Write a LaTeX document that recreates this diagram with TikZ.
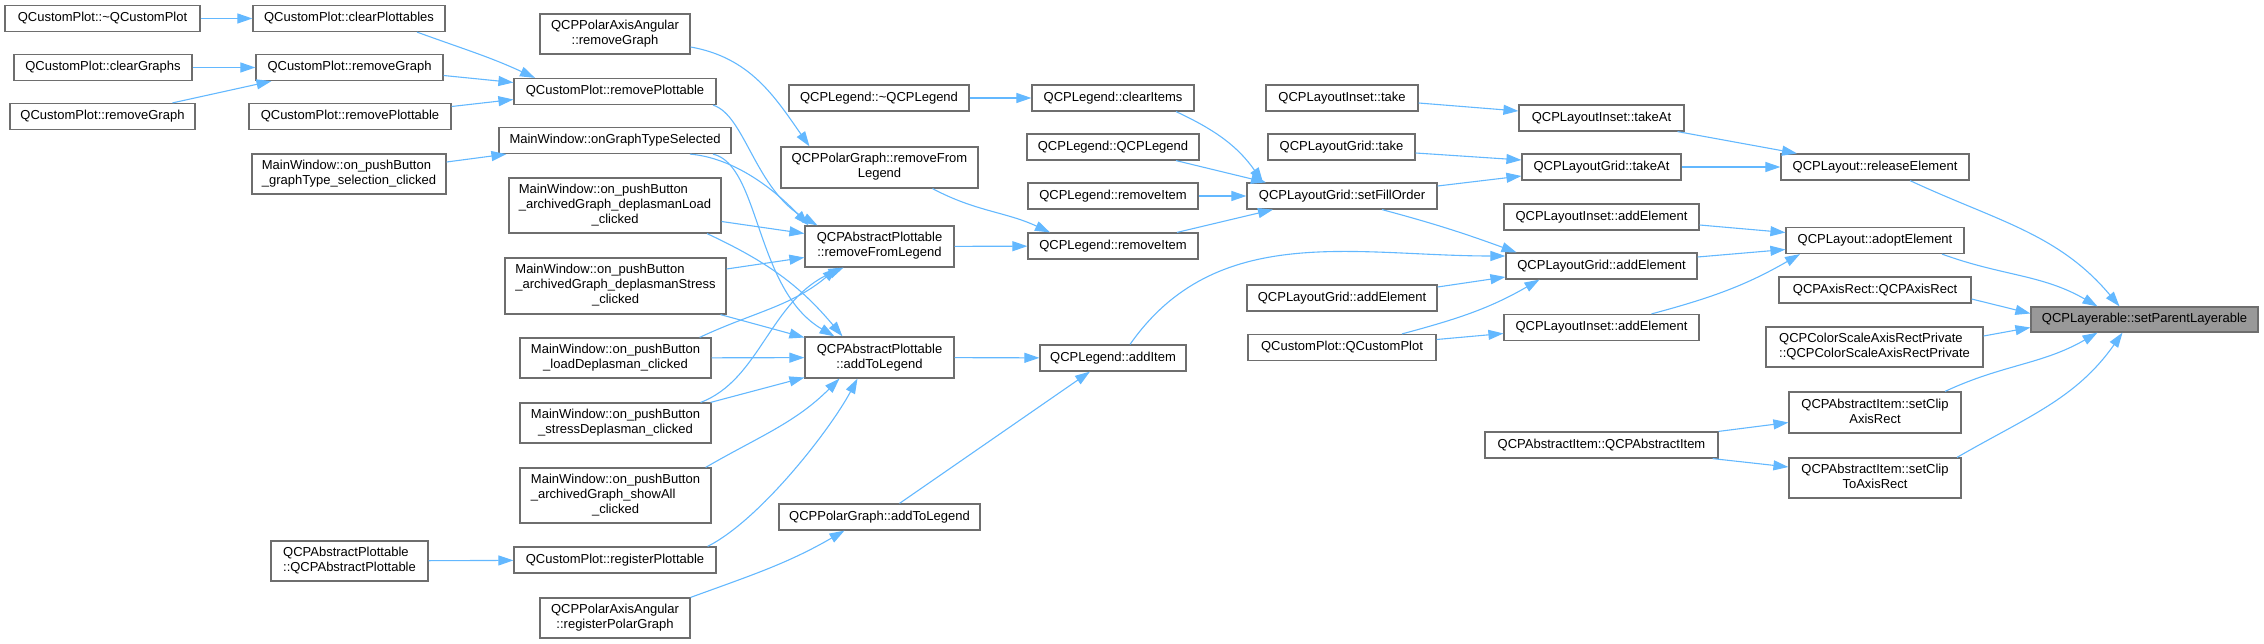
\documentclass[tikz,border=0pt]{standalone}
\usepackage{fontspec}
\setmainfont{Liberation Sans}
\usetikzlibrary{arrows.meta,positioning,calc}
\definecolor{edgeblue}{RGB}{99,184,255}
\definecolor{frame}{RGB}{110,110,110}
\definecolor{mark}{RGB}{153,153,153}
\newcommand{\twol}[2]{\begin{tabular}{@{}l@{}}#1\\\multicolumn{1}{@{}c@{}}{#2}\end{tabular}}
\newcommand{\threel}[3]{\begin{tabular}{@{}l@{}}#1\\#2\\\multicolumn{1}{@{}c@{}}{#3}\end{tabular}}

\begin{document}
\begin{tikzpicture}[x=1pt,y=-1pt,
    fn/.style={draw=frame,line width=1.2pt,fill=white,inner sep=0pt,align=center,
      font=\fontsize{13}{15}\selectfont},
    call/.style={draw=edgeblue,line width=1.1pt,-{Triangle[length=15pt,width=10pt]}}]
  \useasboundingbox (0,0) rectangle (2264,644);
  % functions, column by column
  \foreach \n/\x/\y/\w/\h/\t in {
    dtor/102.5/18.5/195/26/QCustomPlot::\textasciitilde{}QCustomPlot,
    clearGraphs/103/67.5/178/26/QCustomPlot::clearGraphs,
    removeGraphA/102.5/116.5/185/26/QCustomPlot::removeGraph,
    clearPlottables/349/18.5/192/26/QCustomPlot::clearPlottables,
    removeGraphB/349.5/67.5/187/26/QCustomPlot::removeGraph,
    removePlottableA/350/116.5/202/26/QCustomPlot::removePlottable,
    graphTypeClicked/349/174/194/40/{\twol{MainWindow::on\_pushButton}{\_graphType\_selection\_clicked}},
    plottableCtor/349.5/561/157/40/{\twol{QCPAbstractPlottable}{::QCPAbstractPlottable}},
    polarRemoveGraph/615/34/150/40/{\twol{QCPPolarAxisAngular}{::removeGraph}},
    removePlottableB/615/91.5/202/26/QCustomPlot::removePlottable,
    graphTypeSelected/615/140.5/232/26/MainWindow::onGraphTypeSelected,
    loadArchClicked/615/205.5/212/55/{\threel{MainWindow::on\_pushButton}{\_archivedGraph\_deplasmanLoad}{\_clicked}},
    stressArchClicked/615.5/286/221/56/{\threel{MainWindow::on\_pushButton}{\_archivedGraph\_deplasmanStress}{\_clicked}},
    loadClicked/615.5/358/191/40/{\twol{MainWindow::on\_pushButton}{\_loadDeplasman\_clicked}},
    stressClicked/615.5/423/191/40/{\twol{MainWindow::on\_pushButton}{\_stressDeplasman\_clicked}},
    showAllClicked/615.5/495.5/191/55/{\threel{MainWindow::on\_pushButton}{\_archivedGraph\_showAll}{\_clicked}},
    registerPlottable/615/560/202/26/QCustomPlot::registerPlottable,
    registerPolarGraph/615/618/150/40/{\twol{QCPPolarAxisAngular}{::registerPolarGraph}},
    legendDtor/879/98/180/26/QCPLegend::\textasciitilde{}QCPLegend,
    polarRemoveFromLegend/879.5/167.5/197/41/{\twol{QCPPolarGraph::removeFrom}{Legend}},
    removeFromLegend/879.5/246.5/149/41/{\twol{QCPAbstractPlottable}{::removeFromLegend}},
    addToLegend/879.5/357.5/149/41/{\twol{QCPAbstractPlottable}{::addToLegend}},
    polarAddToLegend/879.5/517/201/26/QCPPolarGraph::addToLegend,
    clearItems/1113/98/162/26/QCPLegend::clearItems,
    legendCtor/1113/147/172/26/QCPLegend::QCPLegend,
    removeItemA/1113/196/170/26/QCPLegend::removeItem,
    removeItemB/1113/246/170/26/QCPLegend::removeItem,
    addItem/1113/358/146/26/QCPLegend::addItem,
    insetTake/1342/98/152/26/QCPLayoutInset::take,
    gridTake/1341.5/147/147/26/QCPLayoutGrid::take,
    setFillOrder/1342/196/190/26/QCPLayoutGrid::setFillOrder,
    gridAddElementA/1342/298/190/26/QCPLayoutGrid::addElement,
    customPlotCtor/1342/347.5/188/26/QCustomPlot::QCustomPlot,
    insetTakeAt/1601.5/118/165/26/QCPLayoutInset::takeAt,
    gridTakeAt/1601.5/167/159/26/QCPLayoutGrid::takeAt,
    insetAddElementA/1601.5/217/195/26/QCPLayoutInset::addElement,
    gridAddElementB/1601.5/266/191/26/QCPLayoutGrid::addElement,
    insetAddElementB/1601.5/327.5/195/26/QCPLayoutInset::addElement,
    itemCtor/1601.5/445/233/26/QCPAbstractItem::QCPAbstractItem,
    releaseElement/1875/167/188/26/QCPLayout::releaseElement,
    adoptElement/1875/240.5/178/26/QCPLayout::adoptElement,
    axisRectCtor/1875/290/192/26/QCPAxisRect::QCPAxisRect,
    colorScaleCtor/1874.5/347/217/40/{\twol{QCPColorScaleAxisRectPrivate}{::QCPColorScaleAxisRectPrivate}},
    setClipAxisRect/1875/412.5/172/41/{\twol{QCPAbstractItem::setClip}{AxisRect}},
    setClipToAxisRect/1875/478/172/40/{\twol{QCPAbstractItem::setClip}{ToAxisRect}}}
  {
    \node[fn,minimum width=\w pt,minimum height=\h pt] (\n) at (\x,\y) {\t};
  }
  \node[fn,fill=mark,minimum width=227pt,minimum height=25pt] (target) at (2144.5,319.5) {QCPLayerable::setParentLayerable};

  % straight calls
  \foreach \a/\b in {dtor/clearPlottables,clearGraphs/removeGraphB,plottableCtor/registerPlottable,
    legendDtor/clearItems,removeFromLegend/removeItemB,addToLegend/addItem,loadClicked/addToLegend,
    removeItemA/setFillOrder,gridTakeAt/releaseElement}
    \draw[call] (\a) -- (\b);

  % left part
  \draw[call] ([xshift=68pt]clearPlottables.south) to[out=-20,in=155] ([xshift=-80pt]removePlottableB.north);
  \draw[call] ([xshift=70pt]removeGraphA.north) -- ([xshift=-78pt]removeGraphB.south);
  \draw[call] ([yshift=-8pt]removeGraphB.east) -- ([yshift=9pt]removePlottableB.west);
  \draw[call] ([yshift=10pt]removePlottableA.east) -- ([yshift=-8pt]removePlottableB.west);
  \draw[call] ([yshift=12pt]graphTypeClicked.east) -- ([xshift=8pt]graphTypeSelected.south west);
  \draw[call] ([yshift=-13pt]polarRemoveGraph.east) to[out=-10,in=125] ([xshift=-70pt]polarRemoveFromLegend.north);

  % into removeFromLegend
  \draw[call] ([xshift=98pt]removePlottableB.south) .. controls (745,115) and (755,190) .. ([xshift=-62pt]removeFromLegend.north);
  \draw[call] ([xshift=75pt]graphTypeSelected.south) .. controls (735,158) and (775,190) .. ([xshift=-71pt]removeFromLegend.north);
  \draw[call] ([yshift=-16pt]loadArchClicked.east) -- ([yshift=13pt]removeFromLegend.west);
  \draw[call] ([yshift=17pt]stressArchClicked.east) -- ([yshift=-11pt]removeFromLegend.west);
  \draw[call] ([xshift=-12pt]loadClicked.north east) to[out=25,in=-140] ([xshift=-42pt]removeFromLegend.south);
  \draw[call] ([xshift=-11pt]stressClicked.north east) .. controls (760,380) and (770,300) .. ([xshift=-36pt]removeFromLegend.south);

  % into addToLegend
  \draw[call] ([xshift=98pt]graphTypeSelected.south) .. controls (760,165) and (755,290) .. ([xshift=-45pt]addToLegend.north);
  \draw[call] ([xshift=92pt]loadArchClicked.south) to[out=-25,in=130] ([xshift=-37pt]addToLegend.north);
  \draw[call] ([xshift=105pt]stressArchClicked.south) -- ([yshift=20pt]addToLegend.west);
  \draw[call] ([xshift=-1pt]stressClicked.north east) -- ([yshift=-20pt]addToLegend.west);
  \draw[call] ([xshift=-6pt]showAllClicked.north east) to[out=30,in=-135] ([xshift=-40pt]addToLegend.south);
  \draw[call] ([xshift=-9pt]registerPlottable.north east) .. controls (760,520) and (830,430) .. ([xshift=-22pt]addToLegend.south);

  % legend
  \draw[call] ([xshift=53pt]polarRemoveFromLegend.south) to[out=-28,in=155] ([xshift=-63pt]removeItemB.north);
  \draw[call] (registerPolarGraph.north east) to[out=20,in=-150] ([xshift=-35pt]polarAddToLegend.south);
  \draw[call] ([xshift=20pt]polarAddToLegend.north) -- ([xshift=-23pt]addItem.south);
  \draw[call] ([xshift=63pt]clearItems.south) to[out=-25,in=125] ([xshift=-79pt]setFillOrder.north);
  \draw[call] ([xshift=63pt]legendCtor.south) -- ([xshift=-76pt]setFillOrder.north);
  \draw[call] ([xshift=64pt]removeItemB.north) -- ([xshift=-69pt]setFillOrder.south);
  \draw[call] ([xshift=17pt]addItem.north) to[out=55,in=180] ([yshift=10pt]gridAddElementB.west);

  % layouts
  \draw[call] ([xshift=40pt]setFillOrder.south) to[out=-15,in=160] ([xshift=-85pt]gridAddElementB.north);
  \draw[call] ([yshift=10pt]setFillOrder.east) -- ([yshift=-9pt]gridTakeAt.west);
  \draw[call] ([yshift=-6pt]gridTake.east) -- ([yshift=7pt]gridTakeAt.west);
  \draw[call] ([yshift=-5pt]insetTake.east) -- ([yshift=7pt]insetTakeAt.west);
  \draw[call] ([yshift=11pt]gridAddElementA.east) -- ([yshift=-11pt]gridAddElementB.west);
  \draw[call] ([xshift=60pt]customPlotCtor.north) to[out=15,in=-150] ([xshift=-62pt]gridAddElementB.south);
  \draw[call] ([yshift=8pt]customPlotCtor.east) -- ([yshift=-6pt]insetAddElementB.west);
  \draw[call] ([xshift=76pt]insetTakeAt.south) -- ([xshift=-78pt]releaseElement.north);
  \draw[call] ([yshift=-8pt]insetAddElementA.east) -- ([yshift=8pt]adoptElement.west);
  \draw[call] ([yshift=9pt]gridAddElementB.east) -- ([yshift=-9pt]adoptElement.west);
  \draw[call] ([xshift=50pt]insetAddElementB.north) to[out=15,in=-150] ([xshift=-75pt]adoptElement.south);
  \draw[call] (itemCtor.north east) -- ([yshift=-10pt]setClipAxisRect.west);
  \draw[call] ([xshift=-6pt]itemCtor.south east) -- ([yshift=11pt]setClipToAxisRect.west);

  % into setParentLayerable
  \draw[call] ([xshift=35pt]releaseElement.south) to[out=-25,in=130] ([xshift=-25pt]target.north);
  \draw[call] ([xshift=67pt]adoptElement.south) to[out=-20,in=150] ([xshift=-47pt]target.north);
  \draw[call] ([yshift=-9pt]axisRectCtor.east) -- ([yshift=6pt]target.west);
  \draw[call] ([yshift=11pt]colorScaleCtor.east) -- ([yshift=-8pt]target.west);
  \draw[call] ([xshift=70pt]setClipAxisRect.north) to[out=25,in=-150] ([xshift=-47pt]target.south);
  \draw[call] ([xshift=82pt]setClipToAxisRect.north) to[out=30,in=-125] ([xshift=-22pt]target.south);
\end{tikzpicture}
\end{document}
